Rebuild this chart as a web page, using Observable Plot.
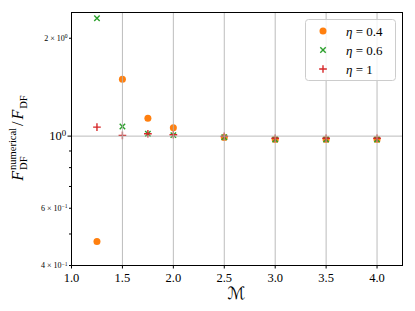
<!DOCTYPE html>
<html><head><meta charset="utf-8">
<script src="https://cdn.jsdelivr.net/npm/d3@7"></script>
<script src="https://cdn.jsdelivr.net/npm/@observablehq/plot@0.6"></script>
<style>body{margin:0;background:#fff}</style>
</head><body>
<script>
const machs = [1.25, 1.5, 1.75, 2.0, 2.5, 3.0, 3.5, 4.0];
const eta04 = [0.474, 1.496, 1.134, 1.061, 0.990, 0.977, 0.977, 0.977];
const eta06 = [2.305, 1.071, 1.017, 1.007, 0.992, 0.977, 0.977, 0.977];
const eta1  = [1.066, 1.005, 1.017, 1.010, 0.998, 0.985, 0.985, 0.985];
const seriesNames = ["η = 0.4", "η = 0.6", "η = 1"];
const seriesColors = ["#ff7f0e", "#2ca02c", "#d62728"];
const xTicks = [1.0, 1.5, 2.0, 2.5, 3.0, 3.5, 4.0];
const yMinorTicks = [0.4, 0.5, 0.6, 0.7, 0.8, 0.9, 2];
const yMinorLabels = ["4 × 10^−1", "", "6 × 10^−1", "", "", "", "2 × 10^0"];
const yMajorTicks = [1];
const yMajorLabels = ["10^0"];

const mk = vals => machs.map((m, i) => ({m, v: vals[i]}));
const serif = "'Liberation Serif', 'DejaVu Serif', serif";
const rCircle = 3.5, rStroke = 2.6, sw = 1.4;

const chart = Plot.plot({
  width: 415, height: 311,
  marginLeft: 71, marginRight: 13, marginTop: 12, marginBottom: 46,
  style: {fontFamily: serif, background: "white", color: "black"},
  x: {domain: [1, 4.25], label: null},
  y: {type: "log", domain: [0.4, 2.4], label: null},
  marks: [
    Plot.dot(mk(eta04), {x: "m", y: "v", r: rCircle, fill: seriesColors[0], symbol: "circle"}),
    Plot.dot(mk(eta06), {x: "m", y: "v", r: rStroke, stroke: seriesColors[1], strokeWidth: sw, symbol: "times"}),
    Plot.dot(mk(eta1), {x: "m", y: "v", r: rStroke, stroke: seriesColors[2], strokeWidth: sw, symbol: "plus"}),
    Plot.gridX(xTicks, {stroke: "#b0b0b0", strokeOpacity: 0.85, strokeWidth: 1}),
    Plot.gridY(yMajorTicks, {stroke: "#b0b0b0", strokeOpacity: 0.85, strokeWidth: 1}),
    Plot.axisX(xTicks, {tickSize: 3.5, tickPadding: 4, fontSize: 12.5, tickFormat: d => d.toFixed(1)}),
    Plot.axisY(yMinorTicks, {tickSize: 2, tickPadding: 2, fontSize: 8, tickFormat: d => yMinorLabels[yMinorTicks.indexOf(d)]}),
    Plot.axisY(yMajorTicks, {tickSize: 3.5, tickPadding: 2, fontSize: 12.5, tickFormat: d => yMajorLabels[yMajorTicks.indexOf(d)]}),
    Plot.frame({stroke: "black", strokeWidth: 1})
  ]
});
document.body.appendChild(chart);
const svg = d3.select(chart);

// superscripts in tick labels
svg.selectAll("text").each(function() {
  const t = this.textContent;
  if (t.includes("^")) {
    const [base, exp] = t.split("^");
    const el = d3.select(this);
    el.selectAll("*").remove();
    el.text(null);
    el.append("tspan").text(base);
    el.append("tspan").attr("dy", "-0.45em").attr("font-size", "70%").text(exp);
  }
});

// measuring helper
const ctx = document.createElement("canvas").getContext("2d");
function tw(txt, size, italic) {
  ctx.font = `${italic ? "italic " : ""}${size}px 'Liberation Serif', 'DejaVu Serif', serif`;
  return ctx.measureText(txt).width;
}

// y label
const big = 16, small = 10.5;
const wNum = tw("numerical", small), wDF = tw("DF", small);
const yl = svg.append("text").attr("transform", "translate(23,138) rotate(-90)")
  .attr("text-anchor", "middle").attr("font-family", serif).attr("fill", "black").attr("font-size", big);
yl.append("tspan").attr("font-style", "italic").text("F");
yl.append("tspan").attr("font-size", small).attr("dx", 1).attr("dy", -7).text("numerical");
yl.append("tspan").attr("font-size", small).attr("dx", -wNum).attr("dy", 11).text("DF");
yl.append("tspan").attr("dx", wNum - wDF + 2).attr("dy", -4).text("/");
yl.append("tspan").attr("font-style", "italic").attr("dx", 2).text("F");
yl.append("tspan").attr("font-size", small).attr("dx", 1).attr("dy", 4).text("DF");

// x label
svg.append("text").attr("x", 236.5).attr("y", 299).attr("text-anchor", "middle")
  .attr("font-family", "'DejaVu Serif', 'DejaVu Sans', serif").attr("font-size", 17)
  .attr("font-style", "italic").attr("fill", "black").text("ℳ");

// legend
const lg = svg.append("g");
lg.append("rect").attr("x", 305.5).attr("y", 19.5).attr("width", 90).attr("height", 61)
  .attr("rx", 3).attr("fill", "white").attr("fill-opacity", 0.8).attr("stroke", "#cccccc");
const syms = [d3.symbolCircle, d3.symbolTimes, d3.symbolPlus];
seriesNames.forEach((name, i) => {
  const yy = 31 + i * 19;
  const r = i === 0 ? rCircle : rStroke;
  const path = lg.append("path").attr("transform", `translate(323,${yy})`)
    .attr("d", d3.symbol(syms[i], Math.PI * r * r)());
  if (i === 0) path.attr("fill", seriesColors[i]);
  else path.attr("fill", "none").attr("stroke", seriesColors[i]).attr("stroke-width", sw);
  const [a, b] = name.split(" = ");
  const t = lg.append("text").attr("x", 346).attr("y", yy + 4.5).attr("text-anchor", "start")
    .attr("font-family", serif).attr("font-size", 13).attr("fill", "black");
  t.append("tspan").attr("font-style", "italic").text(a);
  t.append("tspan").text(" = " + b);
});
</script>
</body></html>
